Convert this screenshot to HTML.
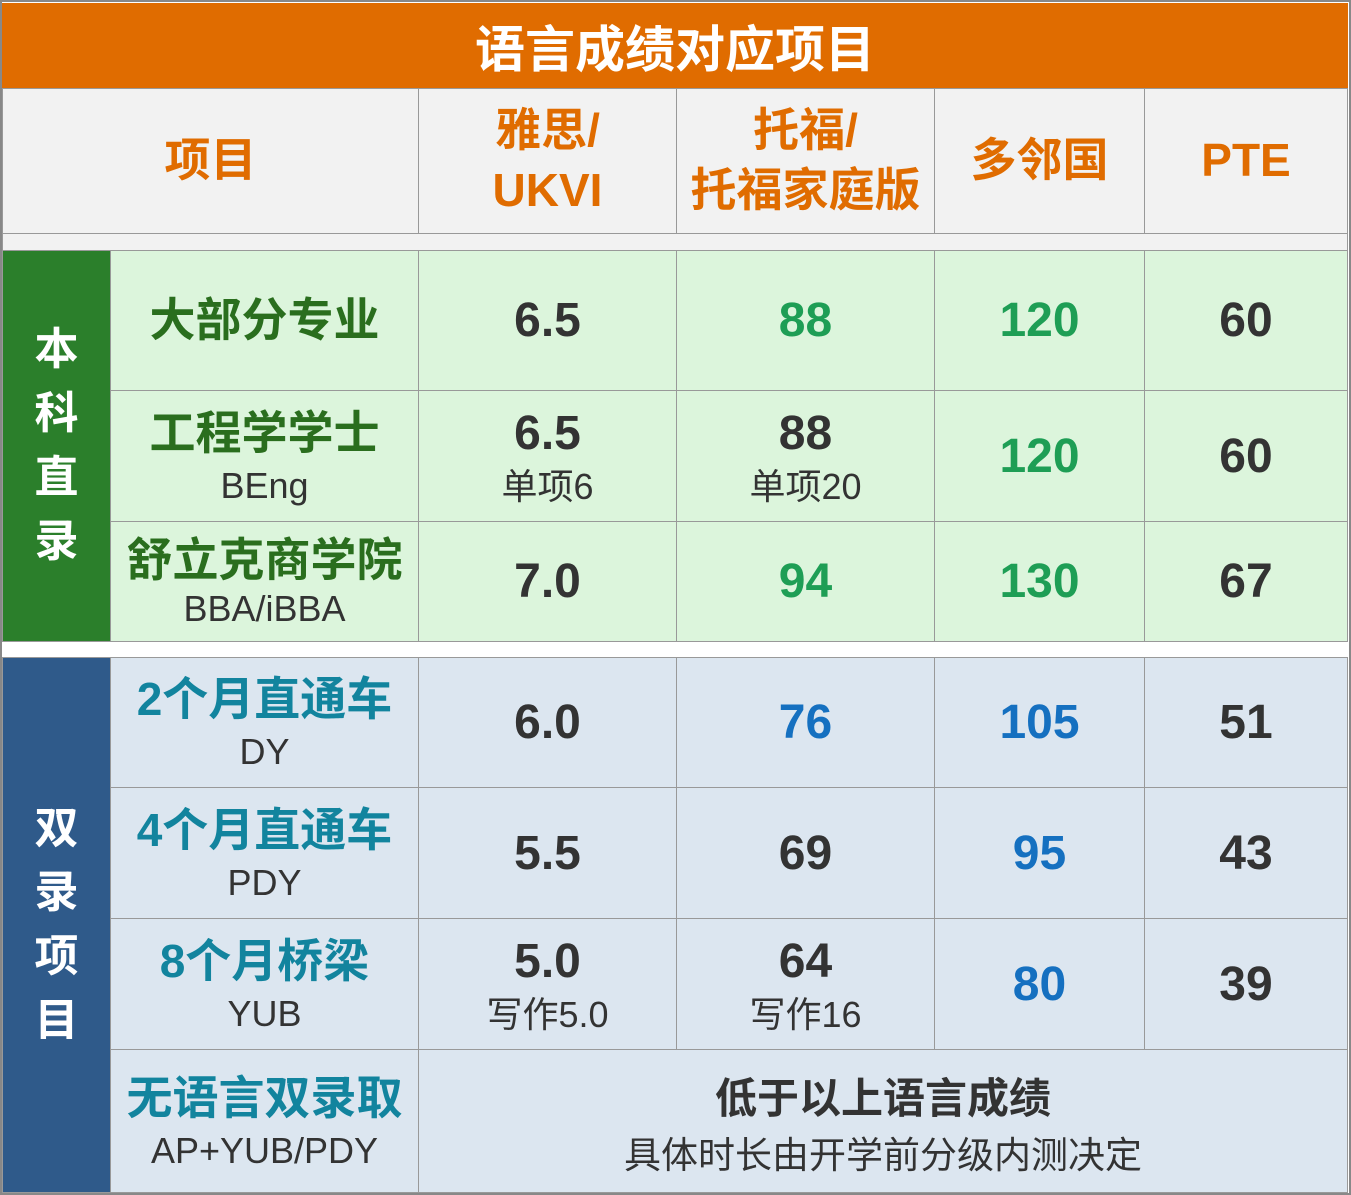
<!DOCTYPE html>
<html><head><meta charset="utf-8"><style>
html,body{margin:0;padding:0}
body{width:1351px;height:1195px;position:relative;background:#fff;overflow:hidden;font-family:"Liberation Sans","Noto Sans CJK SC",sans-serif}
.c{position:absolute;box-sizing:border-box;border:1px solid #999;display:flex;flex-direction:column;align-items:center;justify-content:center;text-align:center}
.b{font-weight:bold}
.v{font-size:48px;font-weight:bold;color:#333}
.s{font-size:36px;color:#333;line-height:1.1;margin-top:6px}
.n{font-size:46px;font-weight:bold;line-height:1.15}
.g{background:#dcf5dc}.bl{background:#dce6f0}
.gv{color:#1e9e55}.bv{color:#1570c0}
.gn{color:#2a6e1e}.bn{color:#12849e}
.h{background:#f2f2f2;color:#e06c00;font-size:46px;font-weight:bold;line-height:1.3}
.cat{color:#fff;font-size:44px;font-weight:bold;line-height:64px}
</style></head><body>
<div style="position:absolute;left:0;top:0;width:1351px;height:1195px;border:2px solid #888;box-sizing:border-box"></div>
<div class="c b" style="left:2px;top:3px;width:1346px;height:85px;background:#e06c00;border:none;color:#fff;font-size:50px">语言成绩对应项目</div>
<div class="c h" style="left:2px;top:88px;width:417px;height:146px">项目</div>
<div class="c h" style="left:418px;top:88px;width:259px;height:146px">雅思/<br>UKVI</div>
<div class="c h" style="left:676px;top:88px;width:259px;height:146px">托福/<br>托福家庭版</div>
<div class="c h" style="left:934px;top:88px;width:211px;height:146px">多邻国</div>
<div class="c h" style="left:1144px;top:88px;width:204px;height:146px">PTE</div>
<div class="c" style="left:2px;top:233px;width:1346px;height:18px;background:#f2f2f2"></div>

<div class="c cat" style="left:2px;top:250px;width:109px;height:392px;background:#2b7f2b">本<br>科<br>直<br>录</div>
<div class="c g n gn" style="left:110px;top:250px;width:309px;height:141px">大部分专业</div>
<div class="c g v" style="left:418px;top:250px;width:259px;height:141px">6.5</div>
<div class="c g v gv" style="left:676px;top:250px;width:259px;height:141px">88</div>
<div class="c g v gv" style="left:934px;top:250px;width:211px;height:141px">120</div>
<div class="c g v" style="left:1144px;top:250px;width:204px;height:141px">60</div>

<div class="c g" style="left:110px;top:390px;width:309px;height:132px"><div class="n gn">工程学学士</div><div class="s">BEng</div></div>
<div class="c g" style="left:418px;top:390px;width:259px;height:132px"><div class="v">6.5</div><div class="s">单项6</div></div>
<div class="c g" style="left:676px;top:390px;width:259px;height:132px"><div class="v">88</div><div class="s">单项20</div></div>
<div class="c g v gv" style="left:934px;top:390px;width:211px;height:132px">120</div>
<div class="c g v" style="left:1144px;top:390px;width:204px;height:132px">60</div>

<div class="c g" style="left:110px;top:521px;width:309px;height:121px"><div class="n gn">舒立克商学院</div><div class="s" style="margin-top:2px">BBA/iBBA</div></div>
<div class="c g v" style="left:418px;top:521px;width:259px;height:121px">7.0</div>
<div class="c g v gv" style="left:676px;top:521px;width:259px;height:121px">94</div>
<div class="c g v gv" style="left:934px;top:521px;width:211px;height:121px">130</div>
<div class="c g v" style="left:1144px;top:521px;width:204px;height:121px">67</div>

<div class="c cat" style="left:2px;top:657px;width:109px;height:536px;background:#2f5a8a">双<br>录<br>项<br>目</div>
<div class="c bl" style="left:110px;top:657px;width:309px;height:131px"><div class="n bn">2个月直通车</div><div class="s">DY</div></div>
<div class="c bl v" style="left:418px;top:657px;width:259px;height:131px">6.0</div>
<div class="c bl v bv" style="left:676px;top:657px;width:259px;height:131px">76</div>
<div class="c bl v bv" style="left:934px;top:657px;width:211px;height:131px">105</div>
<div class="c bl v" style="left:1144px;top:657px;width:204px;height:131px">51</div>

<div class="c bl" style="left:110px;top:787px;width:309px;height:132px"><div class="n bn">4个月直通车</div><div class="s">PDY</div></div>
<div class="c bl v" style="left:418px;top:787px;width:259px;height:132px">5.5</div>
<div class="c bl v" style="left:676px;top:787px;width:259px;height:132px">69</div>
<div class="c bl v bv" style="left:934px;top:787px;width:211px;height:132px">95</div>
<div class="c bl v" style="left:1144px;top:787px;width:204px;height:132px">43</div>

<div class="c bl" style="left:110px;top:918px;width:309px;height:132px"><div class="n bn">8个月桥梁</div><div class="s">YUB</div></div>
<div class="c bl" style="left:418px;top:918px;width:259px;height:132px"><div class="v">5.0</div><div class="s">写作5.0</div></div>
<div class="c bl" style="left:676px;top:918px;width:259px;height:132px"><div class="v">64</div><div class="s">写作16</div></div>
<div class="c bl v bv" style="left:934px;top:918px;width:211px;height:132px">80</div>
<div class="c bl v" style="left:1144px;top:918px;width:204px;height:132px">39</div>

<div class="c bl" style="left:110px;top:1049px;width:309px;height:144px"><div class="n bn">无语言双录取</div><div class="s">AP+YUB/PDY</div></div>
<div class="c bl" style="left:418px;top:1049px;width:930px;height:144px"><div class="b" style="font-size:42px;color:#333">低于以上语言成绩</div><div class="s" style="margin-top:10px;font-size:37px">具体时长由开学前分级内测决定</div></div>
</body></html>
